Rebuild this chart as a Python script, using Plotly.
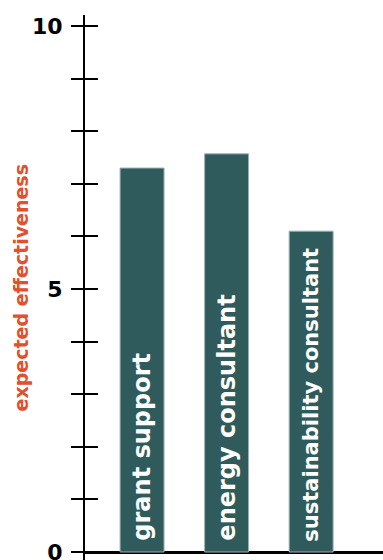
import plotly.graph_objects as go

# Expected effectiveness of each support option (0-10 scale)
categories = ["grant support", "energy consultant", "sustainability consultant"]
values = [7.3, 7.57, 6.1]
label_sizes = [24, 24, 21]

tick_values = list(range(0, 11))
tick_text = ["0", "", "", "", "", "5", "", "", "", "", "10"]

BAR = "#2f5b5d"
TITLE_RED = "#e2502f"
FONT = "DejaVu Sans"

y_range = [-0.152, 10.21]

fig = go.Figure()

fig.add_trace(go.Bar(
    x=categories,
    y=values,
    text=["\u00a0" + c for c in categories],
    textposition="inside",
    insidetextanchor="start",
    textangle=-90,
    textfont=dict(family=FONT, size=label_sizes, color="white", weight="bold"),
    marker=dict(color=BAR, line=dict(color="#9db1b1", width=1)),
    hoverinfo="skip",
))

# invisible companion trace so the inner tick axis gets drawn
fig.add_trace(go.Scatter(
    x=categories, y=values, yaxis="y2", mode="markers",
    marker=dict(opacity=0), hoverinfo="skip", showlegend=False,
))

fig.update_layout(
    width=383,
    height=560,
    margin=dict(l=85, r=0, t=15, b=0, autoexpand=False),
    paper_bgcolor="white",
    plot_bgcolor="white",
    showlegend=False,
    bargap=0.48,
    xaxis=dict(
        range=[-0.675, 2.85],
        showticklabels=False,
        ticks="",
        showgrid=False,
        showline=False,
        zeroline=False,
        automargin=False,
    ),
    yaxis=dict(
        range=y_range,
        tickvals=tick_values,
        ticktext=tick_text,
        ticks="outside",
        ticklen=12,
        tickwidth=2,
        tickcolor="black",
        showline=True,
        linewidth=2,
        linecolor="black",
        showgrid=False,
        zeroline=True,
        zerolinecolor="black",
        zerolinewidth=2.5,
        ticklabelstandoff=4,
        ticklabeloverflow="allow",
        automargin=False,
        tickfont=dict(family=FONT, size=22, color="black", weight="bold"),
        title=dict(text=""),
    ),
    yaxis2=dict(
        range=y_range,
        overlaying="y",
        side="left",
        anchor="x",
        tickvals=tick_values,
        showticklabels=False,
        ticks="inside",
        ticklen=13,
        tickwidth=2,
        tickcolor="black",
        showline=False,
        showgrid=False,
        zeroline=False,
        automargin=False,
    ),
    annotations=[dict(
        text="expected effectiveness",
        xref="paper", yref="paper",
        x=-0.215, y=0.5,
        xanchor="center", yanchor="middle",
        textangle=-90,
        showarrow=False,
        font=dict(family=FONT, size=19, color=TITLE_RED, weight="bold"),
    )],
)

fig.write_html("out.html")
